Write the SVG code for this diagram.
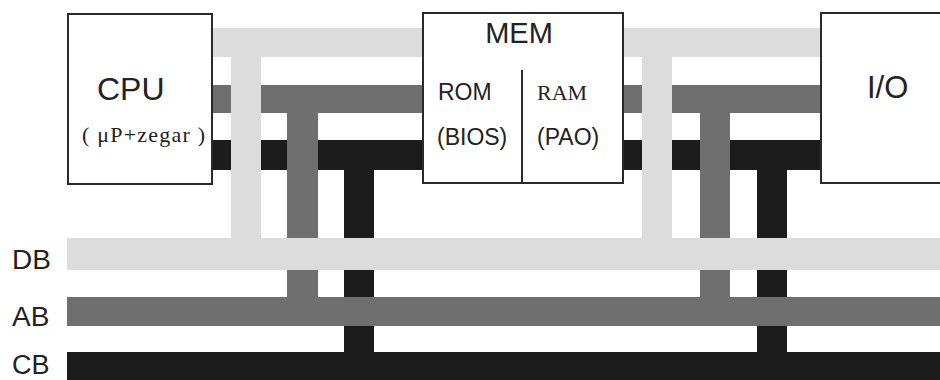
<svg xmlns="http://www.w3.org/2000/svg" width="940" height="380" viewBox="0 0 940 380">
<style>
.box{fill:#ffffff;stroke:#2a2a2a;stroke-width:2}
.div{stroke:#2a2a2a;stroke-width:2}
.cb{fill:#1c1c1c}
.ab{fill:#6f6f6f}
.db{fill:#dcdcdc}
.sans{font-family:"Liberation Sans",Arial,sans-serif;fill:#222}
.serif{font-family:"Liberation Serif","Times New Roman",serif;fill:#222}
</style>
<rect width="940" height="380" fill="#ffffff"/>
<g id="connectors">
  <g id="control-lines">
    <rect class="cb" x="212" y="140" width="211" height="30"/>
    <rect class="cb" x="623" y="140" width="198" height="30"/>
    <rect class="cb" x="344" y="140" width="30" height="214"/>
    <rect class="cb" x="757" y="140" width="30" height="214"/>
  </g>
  <g id="address-lines">
    <rect class="ab" x="212" y="85" width="211" height="28"/>
    <rect class="ab" x="623" y="85" width="198" height="28"/>
    <rect class="ab" x="287" y="85" width="31" height="214"/>
    <rect class="ab" x="700" y="85" width="30" height="214"/>
  </g>
</g>
<g id="bus-CB">
  <rect class="cb" x="67" y="352" width="873" height="28"/>
  <text class="sans" x="12" y="374" font-size="27">CB</text>
</g>
<g id="bus-AB">
  <rect class="ab" x="67" y="297" width="873" height="29"/>
  <text class="sans" x="12" y="326" font-size="28">AB</text>
</g>
<g id="connectors-data">
  <rect class="db" x="212" y="28" width="211" height="29"/>
  <rect class="db" x="623" y="28" width="198" height="29"/>
  <rect class="db" x="231" y="28" width="30" height="212"/>
  <rect class="db" x="642" y="28" width="30" height="212"/>
</g>
<g id="bus-DB">
  <rect class="db" x="67" y="238" width="873" height="32"/>
  <text class="sans" x="12" y="269" font-size="28">DB</text>
</g>
<g id="CPU">
  <rect class="box" x="68" y="14" width="144" height="170"/>
  <text class="sans" x="97" y="100" font-size="32">CPU</text>
  <text class="serif" x="82" y="142" font-size="22" textLength="123" lengthAdjust="spacing">( μP+zegar )</text>
</g>
<g id="MEM">
  <rect class="box" x="423" y="13" width="200" height="170"/>
  <text class="sans" x="519" y="43" font-size="29" text-anchor="middle">MEM</text>
  <line class="div" x1="522" y1="70" x2="522" y2="183"/>
  <text class="sans" x="438" y="100" font-size="23">ROM</text>
  <text class="serif" x="537" y="100" font-size="22">RAM</text>
  <text class="sans" x="437" y="145" font-size="23">(BIOS)</text>
  <text class="sans" x="537" y="145" font-size="23">(PAO)</text>
</g>
<g id="IO">
  <rect class="box" x="821" y="13" width="130" height="170"/>
  <text class="sans" x="867" y="98" font-size="31">I/O</text>
</g>
</svg>
